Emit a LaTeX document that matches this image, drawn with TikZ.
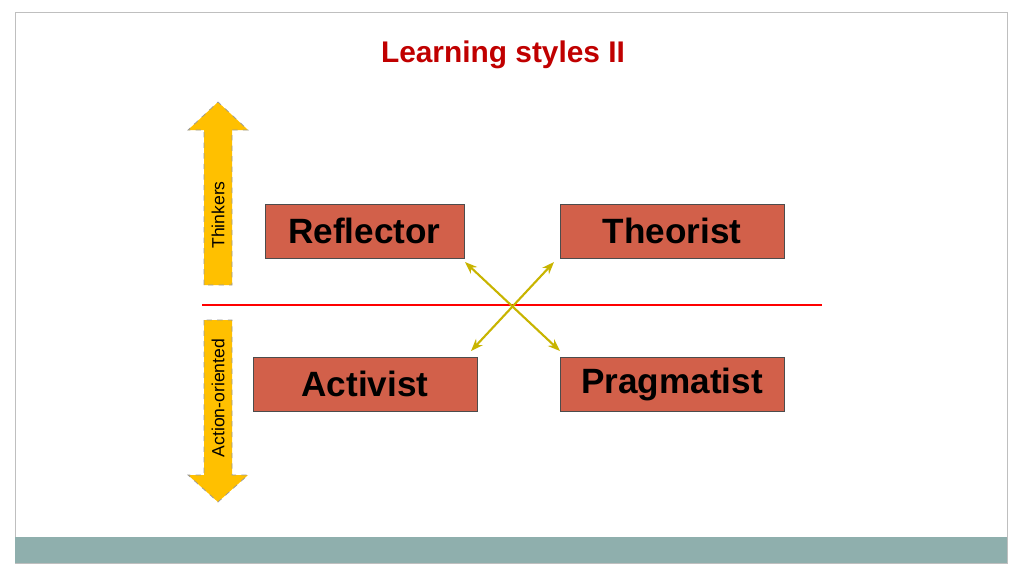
\documentclass[tikz,border=0pt]{standalone}
\usepackage{fontspec}
\setmainfont{Liberation Sans}
\usetikzlibrary{positioning,arrows.meta}
\definecolor{boxfill}{HTML}{D2604A}
\definecolor{titlered}{HTML}{C00000}
\definecolor{bandteal}{HTML}{8FAFAD}
\definecolor{arrowyellow}{HTML}{FFC000}
\definecolor{crossolive}{HTML}{C8B400}
\begin{document}
\begin{tikzpicture}[x=0.02cm,y=-0.02cm,
        stylebox/.style={draw=black!70, fill=boxfill, minimum height=1.08cm, font=\fontsize{20}{24}\selectfont\bfseries, inner sep=0pt},
        bigarrow/.style={fill=arrowyellow, draw=black!40, dashed, line width=0.4pt},
        cross/.style={crossolive, line width=1.2pt, {Stealth[length=7pt]}-{Stealth[length=7pt]}}
    ]
    \useasboundingbox (0,0) rectangle (1024,576);
    \draw[black!25] (15,12) rectangle (1007,563);
    \fill[bandteal] (15,537) rectangle (1007,563);

    \node[text=titlered, font=\fontsize{17}{20}\selectfont\bfseries] (title) at (503,55) {Learning styles II};

    % side arrows
    \draw[bigarrow] (204,285) -- (204,130) -- (188,130) -- (218,102) -- (248,130) -- (232,130) -- (232,285) -- cycle;
    \draw[bigarrow] (204,320) -- (204,475) -- (188,475) -- (218,502) -- (248,475) -- (232,475) -- (232,320) -- cycle;
    \node[rotate=90, font=\fontsize{10}{12}\selectfont] (thinkers) at (218,215) {Thinkers};
    \node[rotate=90, font=\fontsize{10}{12}\selectfont] (action) at (218,398) {Action-oriented};

    \draw[red, line width=1.5pt] (202,305) -- (822,305);

    % boxes
    \node[stylebox, minimum width=3.98cm] (reflector) at (364.5,231) {Reflector};
    \node[stylebox, minimum width=4.48cm] (theorist) at (672,231) {Theorist};
    \node[stylebox, minimum width=4.48cm] (activist) at (365,384) {Activist};
    \node[stylebox, minimum width=4.48cm] (pragmatist) at (672,384) {Pragmatist};

    \coordinate (tl) at (465,262);
    \coordinate (tr) at (554,262);
    \coordinate (bl) at (471,351);
    \coordinate (br) at (560,351);
    \draw[cross] (tl) -- (br);
    \draw[cross] (tr) -- (bl);
\end{tikzpicture}
\end{document}
